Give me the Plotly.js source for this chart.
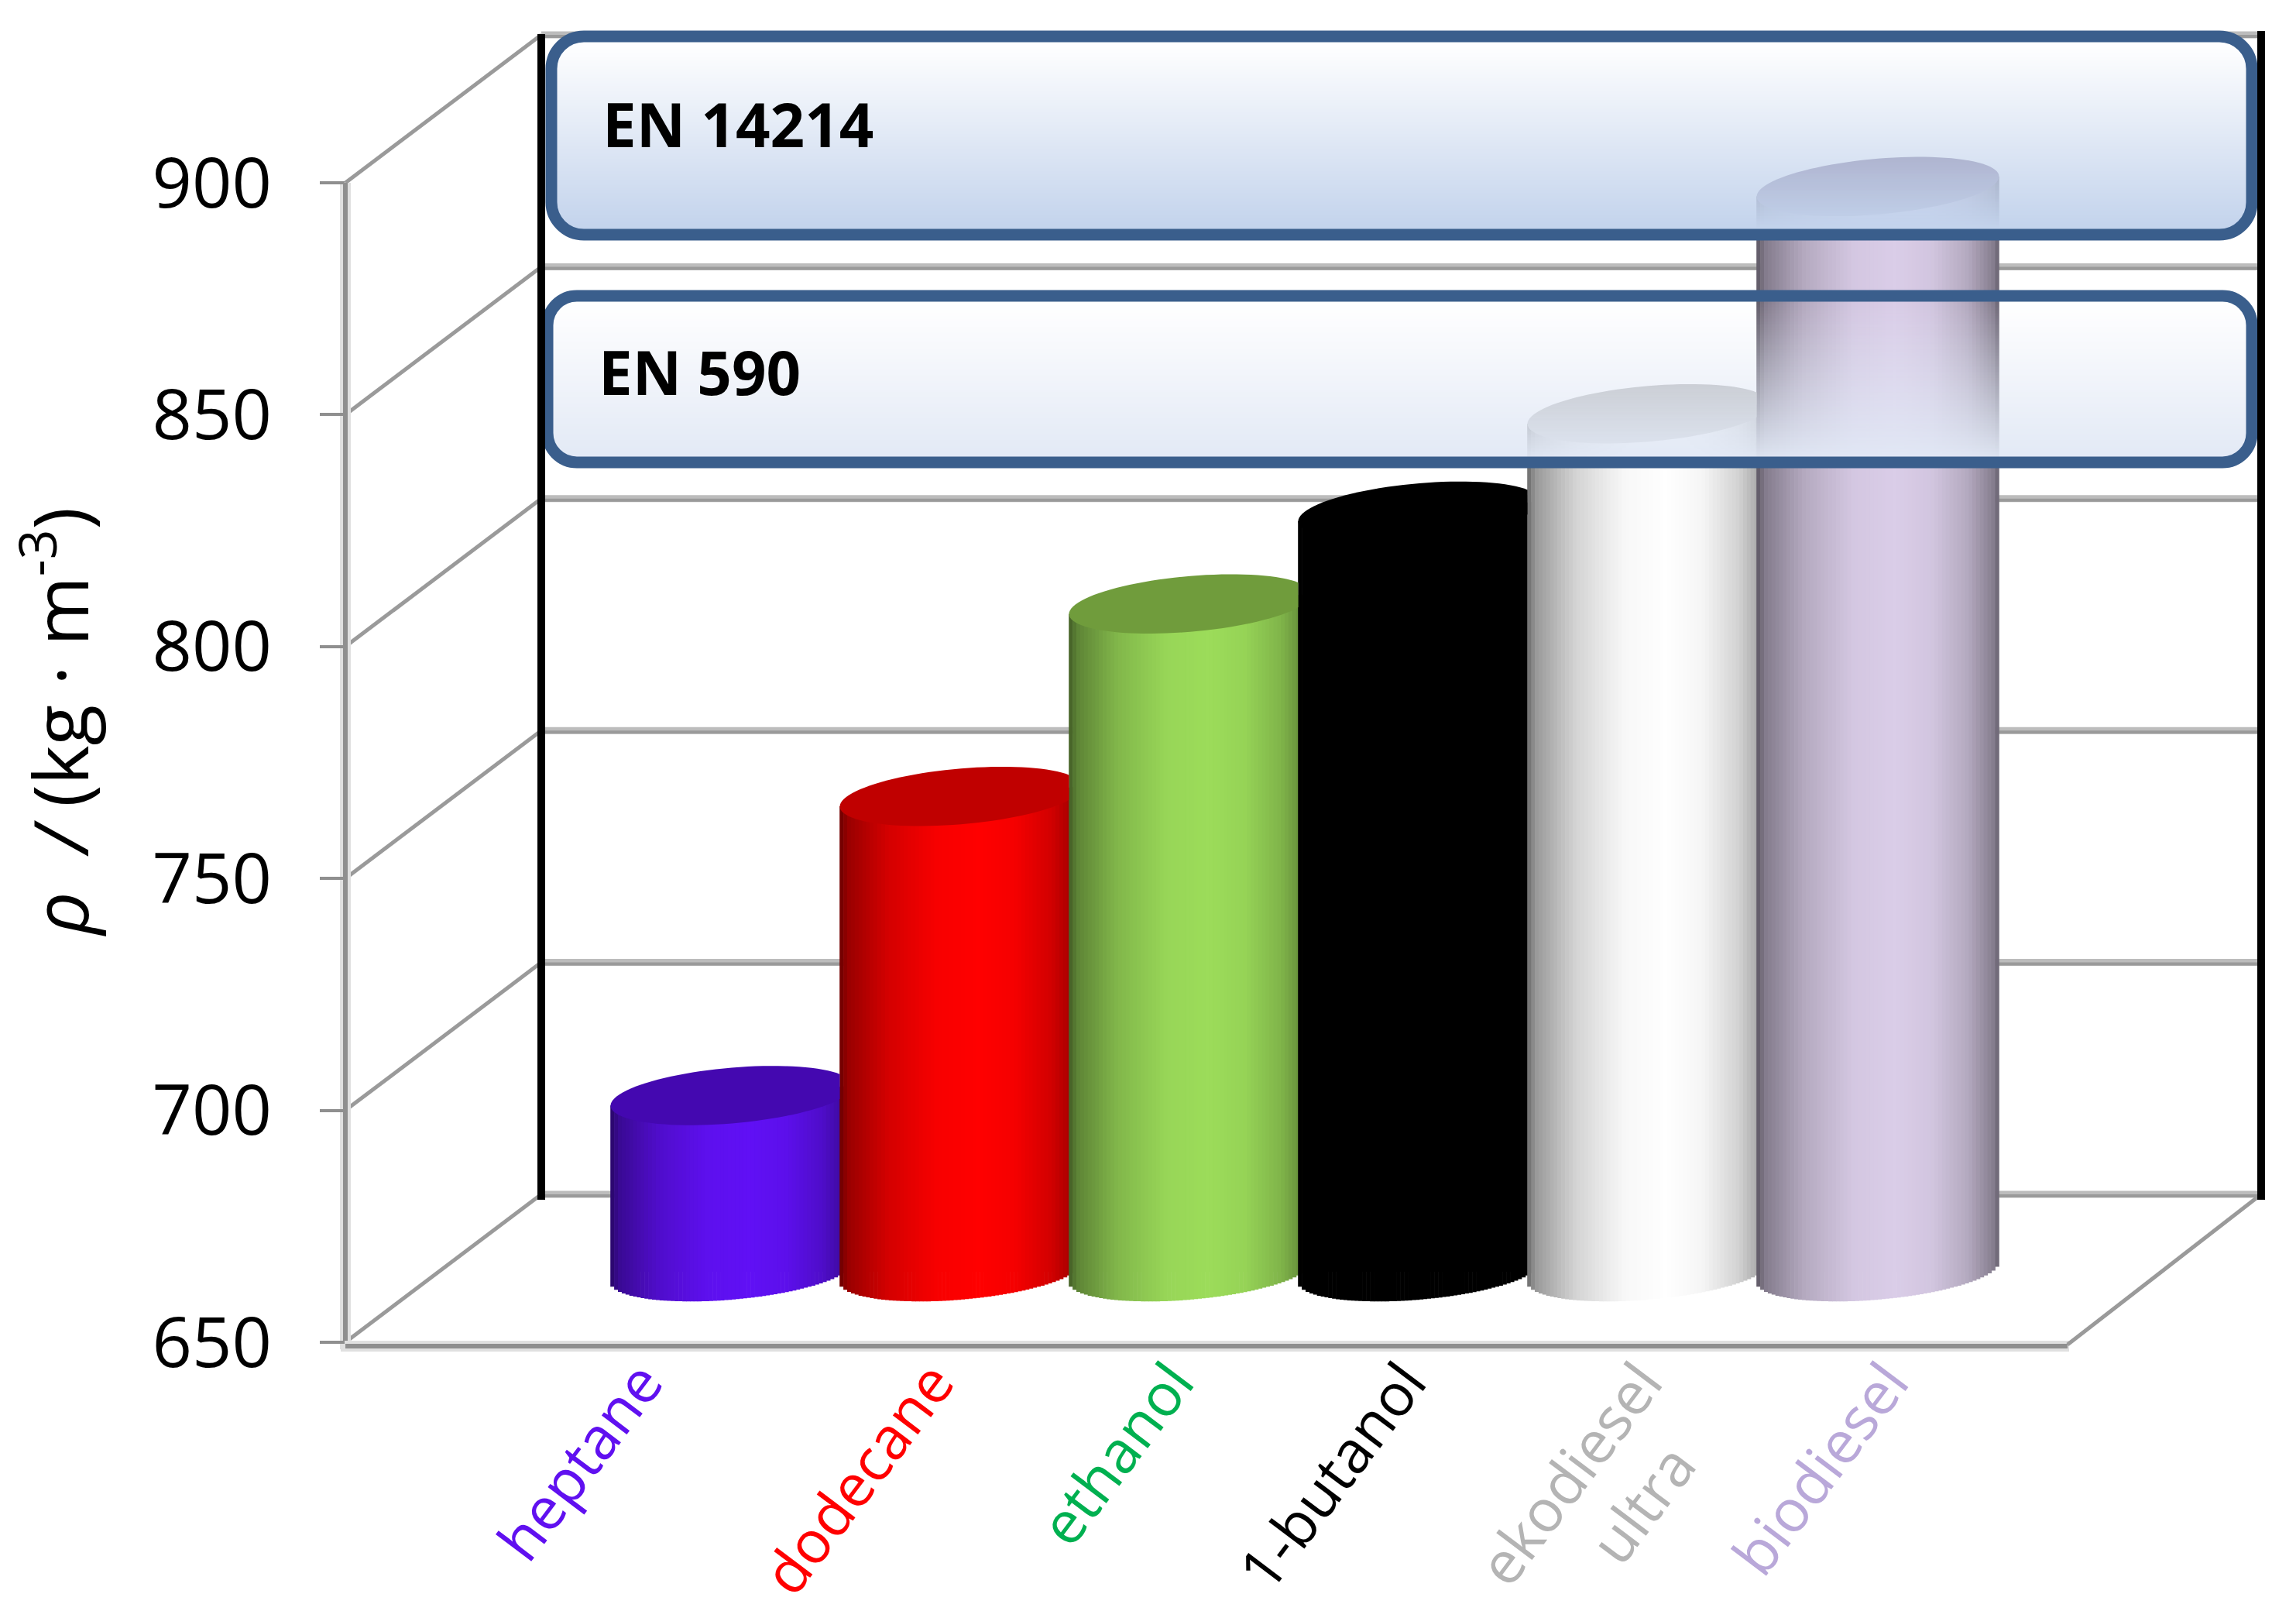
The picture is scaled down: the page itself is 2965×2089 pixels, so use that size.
<!DOCTYPE html>
<html><head><meta charset="utf-8">
<script src="https://cdn.plot.ly/plotly-3.0.1.min.js"></script>
<style>html,body{margin:0;padding:0;background:#fff}</style></head>
<body><div id="chart" style="width:2965px;height:2089px"></div>
<script>
// ---- data ----
const categories = ['heptane', 'dodecane', 'ethanol', '1-butanol', 'ekodiesel ultra', 'biodiesel'];
const density = [688, 752.5, 794, 814, 835, 884];
const yTicks = [650, 700, 750, 800, 850, 900];
const labelLines = [['heptane'], ['dodecane'], ['ethanol'], ['1-butanol'], ['ekodiesel', 'ultra\u00A0\u00A0\u00A0'], ['biodiesel']];
const labelColors = ['#6010f0', '#ff0000', '#00b050', '#000000', '#b4b4b4', '#b9a8d9'];
const bodyColors = ['#6010f5', '#ff0000', '#9cdc5a', '#000000', '#ffffff', '#dacde8'];
const capColors = ['#4408b0', '#c00000', '#709c3c', '#000000', '#b5b5b5', '#8f84a3'];
const labelPx = [829, 1205, 1515, 1815, 2120, 2438];

// ---- page geometry (px) ----
const W = 2965, H = 2089;
const K = 5.988;                 // px per density unit
const floorFrontY = 1738, tick650 = 1733, domTop = 124;
const leftX = 446, floorRightX = 2670, backLeftX = 699, backRightX = 2920;
const depthX = 252, depthY = 191, barBaseY = 1642;
const spacing = 296, firstCenter = 945, barW = 313;
const S = 13, B = 36, strips = 64;
const px = x => x / W, py = y => 1 - y / H;
const xUnit = p => (p - firstCenter) / spacing;
const a = barW / 2 / spacing;
const tickPy = v => tick650 - (v - 650) * K;

// shading across a cylinder
const shadeStops = [[-1, .42], [-.93, .6], [-.6, .83], [-.2, .97], [.15, 1], [.45, .96], [.75, .82], [.95, .62], [1, .48]];
function shade(u) {
  for (let i = 1; i < shadeStops.length; i++) {
    if (u <= shadeStops[i][0]) {
      const [u0, s0] = shadeStops[i - 1], [u1, s1] = shadeStops[i];
      return s0 + (s1 - s0) * (u - u0) / (u1 - u0);
    }
  }
  return 1;
}
function hex(c) { return [1, 3, 5].map(i => parseInt(c.substr(i, 2), 16)); }
const shaded = (c, u) => { const s = shade(u); const r = hex(c).map(v => Math.round(v * s)); return `rgb(${r[0]},${r[1]},${r[2]})`; };

// ---- traces ----
const traces = [];
traces.push({ type: 'scatter', mode: 'markers', x: yTicks.map(() => xUnit(leftX)), y: yTicks,
  marker: { opacity: 0, size: 1 }, xaxis: 'x', yaxis: 'y', hoverinfo: 'skip', showlegend: false });
traces.push({ type: 'bar', name: 'density', x: categories.map((_, i) => i), y: density, text: categories, textposition: 'none',
  width: 2 * a * 0.88, marker: { color: bodyColors }, xaxis: 'x', yaxis: 'y2', showlegend: false, hoverinfo: 'text+y' });
density.forEach((v, i) => {
  const xs = [], bases = [], lens = [], cols = [];
  for (let s = 0; s < strips; s++) {
    const u = -1 + (s + .5) * 2 / strips;
    const bottom = 650 + (S * u - B * Math.sqrt(Math.max(0, 1 - u * u))) / K;
    const top = v + S * u / K;
    xs.push(i + u * a); bases.push(bottom); lens.push(top - bottom); cols.push(shaded(bodyColors[i], u));
  }
  traces.push({ type: 'bar', name: categories[i], x: xs, y: lens, base: bases, width: 2 * a / strips * 1.12,
    marker: { color: cols, line: { width: 0 } }, xaxis: 'x', yaxis: 'y3', showlegend: false, hoverinfo: 'skip' });
});

// ---- frame ----
const shapes = [];
const gray = '#8f8f8f';
const line = (x0, y0, x1, y1, color, width, layer) => shapes.push({ type: 'line', xref: 'paper', yref: 'paper',
  x0: px(x0), y0: py(y0), x1: px(x1), y1: py(y1), line: { color, width }, layer: layer || 'below' });

yTicks.forEach(v => {
  line(backLeftX, tickPy(v) - depthY, backRightX, tickPy(v) - depthY, '#bcbcbc', 9);
  line(backLeftX, tickPy(v) - depthY + 2, backRightX, tickPy(v) - depthY + 2, '#9a9a9a', 4);
  line(leftX, tickPy(v), backLeftX, tickPy(v) - depthY, '#9a9a9a', 5);
});
line(leftX, tickPy(900), leftX, floorFrontY + 4, '#e0e0e0', 14);
line(leftX, tickPy(900), leftX, floorFrontY, gray, 6);
line(leftX - 6, floorFrontY, floorRightX + 2, floorFrontY, '#e0e0e0', 14);
line(leftX, floorFrontY, floorRightX, floorFrontY, gray, 6);
line(floorRightX, floorFrontY - 2, backRightX, tickPy(650) - depthY, '#9a9a9a', 5);

// cylinder caps, cut where the next cylinder starts
density.forEach((v, i) => {
  const pts = [];
  for (let t = 0; t < 96; t++) {
    const th = t / 96 * 2 * Math.PI, u = Math.cos(th);
    let x = i + a * u;
    if (i < density.length - 1) x = Math.min(x, i + 1 - a);
    pts.push(x.toFixed(4) + ' ' + (v + (S * u + B * Math.sin(th)) / K).toFixed(3));
  }
  shapes.push({ type: 'path', xref: 'x', yref: 'y3', path: 'M' + pts.join(' L') + ' Z',
    fillcolor: capColors[i], line: { width: 0 }, layer: 'above' });
});

// translucent panels: fill strips, then the outline
function panel(x0, y0, x1, y1, border, radius, color, maxAlpha) {
  const iy0 = y0 + border / 2, iy1 = y1 - border / 2;
  const step = 2, n = Math.round((y1 - y0) / step);
  for (let k = 0; k < n; k++) {
    const ya = y0 + k * step, yb = ya + step, yc = (ya + yb) / 2;
    let inset = 0;
    const d = Math.min(yc - y0, y1 - yc);
    if (d < radius) inset = radius - Math.sqrt(radius * radius - (radius - d) * (radius - d));
    const f = Math.min(1, Math.max(0, (yc - iy0) / (iy1 - iy0)));
    shapes.push({ type: 'rect', xref: 'paper', yref: 'paper', layer: 'above',
      x0: px(x0 + inset), x1: px(x1 - inset), y0: py(yb), y1: py(ya),
      fillcolor: `rgba(${color[0]},${color[1]},${color[2]},${(f * maxAlpha).toFixed(3)})`, line: { width: 0 } });
  }
  const r = radius, c = radius * 0.4477;
  const X = v => px(v).toFixed(5), Y = v => py(v).toFixed(5);
  const path = `M${X(x0 + r)} ${Y(y0)} L${X(x1 - r)} ${Y(y0)} C${X(x1 - c)} ${Y(y0)} ${X(x1)} ${Y(y0 + c)} ${X(x1)} ${Y(y0 + r)} L${X(x1)} ${Y(y1 - r)} C${X(x1)} ${Y(y1 - c)} ${X(x1 - c)} ${Y(y1)} ${X(x1 - r)} ${Y(y1)} L${X(x0 + r)} ${Y(y1)} C${X(x0 + c)} ${Y(y1)} ${X(x0)} ${Y(y1 - c)} ${X(x0)} ${Y(y1 - r)} L${X(x0)} ${Y(y0 + r)} C${X(x0)} ${Y(y0 + c)} ${X(x0 + c)} ${Y(y0)} ${X(x0 + r)} ${Y(y0)} Z`;
  shapes.push({ type: 'path', xref: 'paper', yref: 'paper', path, line: { color: '#3a5e8c', width: border }, layer: 'above' });
}
panel(712, 47, 2908, 303, 15, 42, [195, 211, 236], 1.0);
panel(707, 382, 2908, 597, 15, 38, [225, 232, 245], 0.95);

// black back-wall uprights sit on top
line(backLeftX, 44, backLeftX, 1549, '#000000', 10, 'above');
line(backRightX, 40, backRightX, 1549, '#000000', 10, 'above');

const labelFont = 'Open Sans, sans-serif';
const layout = {
  width: W, height: H, margin: { l: 0, r: 0, t: 0, b: 0, pad: 0 }, paper_bgcolor: '#fff', plot_bgcolor: 'rgba(0,0,0,0)',
  barmode: 'overlay', showlegend: false, shapes,
  xaxis: {
    domain: [px(leftX), px(floorRightX)], range: [xUnit(leftX), xUnit(floorRightX)], anchor: 'y',
    tickmode: 'array', tickvals: labelPx.map(xUnit),
    ticktext: labelLines.map((ls, i) => ls.map(l => `<span style="color:${labelColors[i]}">${l}</span>`).join('<br>')),
    tickangle: -53, ticks: '', showgrid: false, zeroline: false, showline: false, ticklabelstandoff: -14,
    tickfont: { family: labelFont, size: 76 }, automargin: false
  },
  yaxis: {
    domain: [py(floorFrontY), py(domTop)],
    range: [650 - (floorFrontY - tick650) / K, 650 + (tick650 - domTop) / K], anchor: 'x',
    tickmode: 'array', tickvals: yTicks, ticks: 'outside', ticklen: 32, tickwidth: 4, tickcolor: gray, ticklabelstandoff: 44,
    tickfont: { family: labelFont, size: 90, color: '#000' }, showgrid: false, zeroline: false, showline: false,
    automargin: false,
    title: { text: '<i>ρ</i>  <i>/</i> (kg · m<sup>-3</sup>)', font: { family: labelFont, size: 97, color: '#000' }, standoff: 162 }
  },
  yaxis2: {
    domain: [py(barBaseY), py(domTop)], range: [650, 650 + (barBaseY - domTop) / K], anchor: 'x',
    visible: false, showgrid: false, zeroline: false
  },
  yaxis3: {
    domain: [py(floorFrontY), py(domTop)], range: [650 - (floorFrontY - barBaseY) / K, 650 + (barBaseY - domTop) / K], anchor: 'x',
    visible: false, showgrid: false, zeroline: false
  },
  annotations: [
    { text: '<b>EN 14214</b>', xref: 'paper', yref: 'paper', x: px(776), y: py(160), xanchor: 'left', yanchor: 'middle', showarrow: false,
      font: { family: labelFont, size: 78, color: '#000' } },
    { text: '<b>EN 590</b>', xref: 'paper', yref: 'paper', x: px(771), y: py(480), xanchor: 'left', yanchor: 'middle', showarrow: false,
      font: { family: labelFont, size: 78, color: '#000' } }
  ]
};
Plotly.newPlot('chart', traces, layout, { staticPlot: true, displayModeBar: false });
</script></body></html>
